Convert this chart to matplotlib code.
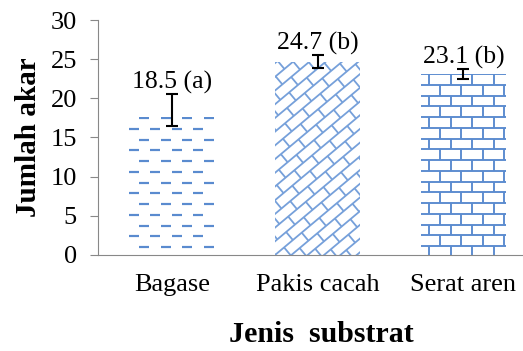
import matplotlib.pyplot as plt
import numpy as np
from matplotlib.collections import LineCollection

categories = ['Bagase', 'Pakis cacah', 'Serat aren']
bar_heights = [17.6, 24.6, 23.1]
means = [18.5, 24.7, 23.1]
errors = [2.1, 0.85, 0.7]
labels = ['18.5 (a)', '24.7 (b)', '23.1 (b)']

plt.rcParams['font.family'] = 'Liberation Serif'
blue = '#5a8bcf'
P = 21.5  # pattern tile, pixels


def dash_pattern(x0, y0, x1, y1):
    segs = []
    k = 0
    y = y1 - 1
    while y > y0 + 3:
        off = 10.8 if k % 2 else 0
        xs = x0 + 10 - P + off
        while xs < x1:
            segs.append([(xs, y), (xs + 10, y)])
            xs += P
        y -= P / 2
        k += 1
    return segs


def brick_pattern(x0, y0, x1, y1):
    segs = []
    h = P / 2
    k = 0
    y = y1
    while y > y0:
        segs.append([(x0, y), (x1, y)])
        off = h if k % 2 else 0
        xs = x0 + 8 - P + off
        while xs < x1:
            segs.append([(xs, y), (xs, y - h)])
            xs += P
        y -= h
        k += 1
    return segs


def diag_brick_pattern(x0, y0, x1, y1, d=10.5, L=23, ang=40):
    # bricks along an up-right direction, rotated frame (u, v)
    a = np.radians(ang)
    eu = np.array([np.cos(a), np.sin(a)])
    ev = np.array([-np.sin(a), np.cos(a)])
    o = np.array([x0, y0])
    r = np.hypot(x1 - x0, y1 - y0) + 2 * L
    segs = []
    for k in range(int(-r / d) - 1, int(r / d) + 2):
        segs.append([o + ev * k * d - eu * r, o + ev * k * d + eu * r])
        off = L / 2 if k % 2 else 0
        for j in range(int(-r / L) - 1, int(r / L) + 2):
            u = j * L + off
            segs.append([o + eu * u + ev * k * d, o + eu * u + ev * (k + 1) * d])
    return segs


fig = plt.figure(figsize=(5.23, 3.51), dpi=100)
ax = fig.add_axes([0.187, 0.274, 0.83, 0.669])
x = np.arange(len(categories))
bars = ax.bar(x, bar_heights, width=0.58, color='none', edgecolor='none')
ax.set_xlim(-0.507, 2.47)
ax.set_ylim(0, 30)

inv = ax.transData.inverted()
makers = [dash_pattern, diag_brick_pattern, brick_pattern]
widths = [2.2, 1.8, 1.9]
colors = [blue, '#76a0da', blue]
for bar, make, lw, c in zip(bars, makers, widths, colors):
    (bx0, by0), (bx1, by1) = ax.transData.transform(
        [(bar.get_x(), 0), (bar.get_x() + bar.get_width(), bar.get_height())])
    segs = [inv.transform(np.array(s)) for s in make(bx0, by0, bx1, by1)]
    lc = LineCollection(segs, colors=c, linewidths=lw * 72 / 100)
    ax.add_collection(lc)
    lc.set_clip_path(bar)

ax.errorbar(x, means, yerr=errors, fmt='none', ecolor='black',
            elinewidth=1.5, capsize=4.5, capthick=1.5)
for xi, m, e, t in zip(x, means, errors, labels):
    ax.annotate(t, (xi, m + e), xytext=(0, 0), textcoords='offset points',
                ha='center', va='bottom', fontsize=18.5)

ax.set_yticks(range(0, 31, 5))
ax.set_xticks(x)
ax.set_xticklabels(categories, fontsize=19)
ax.tick_params(axis='y', labelsize=19, length=6, color='#888888', pad=9)
ax.tick_params(axis='x', length=0, pad=14)
for s in ['top', 'right']:
    ax.spines[s].set_visible(False)
for s in ['left', 'bottom']:
    ax.spines[s].set_color('#888888')
ax.set_ylabel('Jumlah akar', fontsize=21, fontweight='bold', labelpad=6)
xl = ax.set_xlabel('Jenis  substrat', fontsize=21.5, fontweight='bold')
xl.set_verticalalignment('baseline')
ax.xaxis.set_label_coords(0.516, -0.37)

fig.savefig('out.png', dpi=100)
